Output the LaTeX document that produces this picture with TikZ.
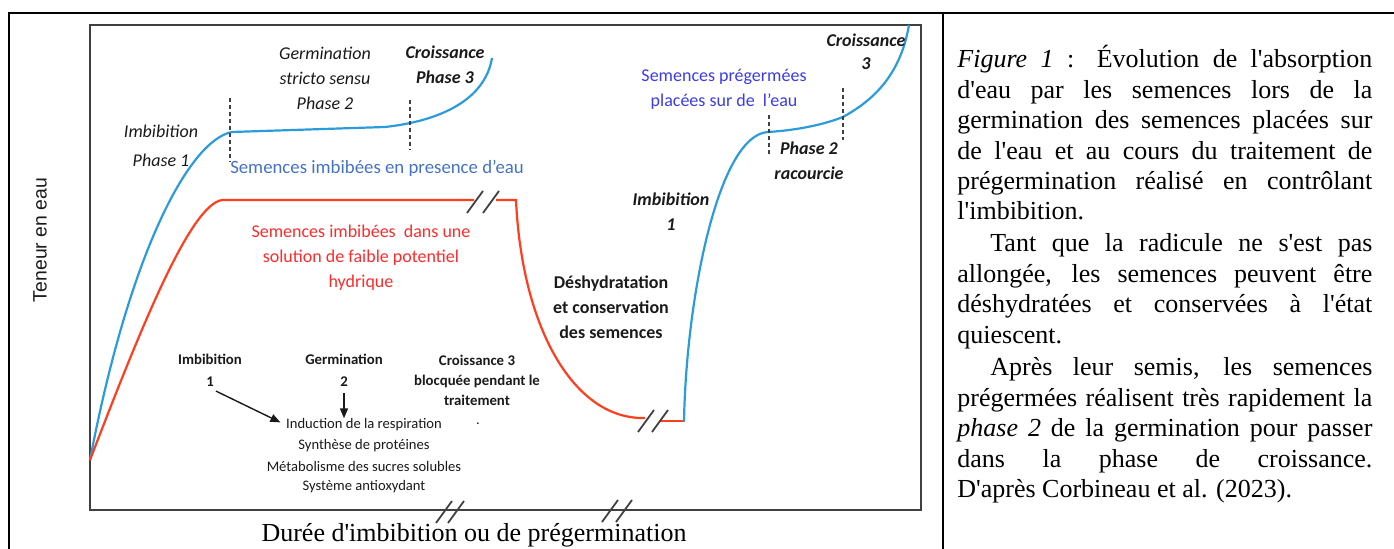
\documentclass[tikz,border=0pt]{standalone}
\usepackage{fontspec}
\usetikzlibrary{arrows.meta}
\newfontfamily\calibri{Carlito}
\newfontfamily\arialsans{Liberation Sans}
\font\timesup="Liberation Serif" at 13pt
\font\timesit="Liberation Serif/I" at 13pt
\definecolor{WaterBlue}{HTML}{2B9BD9}
\definecolor{SolRed}{HTML}{FF3D1F}
\definecolor{ImbText}{HTML}{4472C4}
\definecolor{PregText}{HTML}{3B3BEB}
\definecolor{RedText}{HTML}{FF2B2B}
\definecolor{FrameGray}{HTML}{404040}
\definecolor{LabelInk}{HTML}{1A1A1A}
\newcommand{\capline}[1]{\makebox[207.5pt][s]{#1}}
\tikzset{
  lab/.style={align=center, inner sep=0pt, text=LabelInk, font=\calibri\fontsize{9}{12.5}\selectfont},
  labit/.style={lab, font=\calibri\itshape\fontsize{9}{12.5}\selectfont},
  labbi/.style={lab, font=\calibri\bfseries\itshape\fontsize{9}{12.5}\selectfont},
  labbf/.style={lab, font=\calibri\bfseries\fontsize{9}{12.5}\selectfont},
  labsmall/.style={lab, font=\calibri\bfseries\fontsize{7.4}{11}\selectfont},
  actline/.style={lab, font=\calibri\fontsize{7.3}{10}\selectfont},
  curveblue/.style={WaterBlue, line width=1.1pt},
  curvered/.style={SolRed, line width=1.1pt},
  phasedash/.style={FrameGray, line width=0.6pt, dash pattern=on 2pt off 1.5pt},
  brk/.style={FrameGray, line width=0.9pt},
  arr/.style={-{Triangle[length=5pt,width=4pt]}, line width=0.7pt, LabelInk},
  capnode/.style={anchor=base west, inner sep=0pt, font=\timesup},
}
\begin{document}
\begin{tikzpicture}[x=0.5pt, y=-0.5pt]
  \useasboundingbox (0,0) rectangle (1394,549);
  % table lines
  \draw[line width=1.2pt] (9,549) -- (9,13) -- (1394,13);
  \draw[line width=1.2pt] (943,13) -- (943,549);
  % graph frame
  \draw[FrameGray, line width=1pt] (90,25) rectangle (921,510);

  % curves
  \draw[curveblue] (90,460) .. controls (130,250) and (190,140) .. (232,132)
    -- (385,127) .. controls (440,121) and (485,100) .. (492,58);
  \draw[curvered] (90,460) .. controls (140,330) and (190,205) .. (222,200) -- (474,200);
  \draw[curvered] (496,200) -- (516,200) .. controls (522,330) and (575,420) .. (645,418);
  \draw[curvered] (660,421) -- (684,421);
  \draw[curveblue] (684,422) .. controls (686,300) and (718,135) .. (768,132)
    .. controls (800,130) and (825,124) .. (843,117)
    .. controls (870,102) and (900,78) .. (909,25);

  \draw[phasedash] (230,98) -- (230,162);
  \draw[phasedash] (410,100) -- (410,150);
  \draw[phasedash] (769,115) -- (769,155);
  \draw[phasedash] (843,88) -- (843,140);

  % break marks
  \foreach \bx/\by/\bs in {483/202/8, 653/421/7, 450/512/6, 617/511/7} {
    \draw[brk] (\bx-\bs-8,\by+11) -- (\bx-\bs+8,\by-11);
    \draw[brk] (\bx+\bs-8,\by+11) -- (\bx+\bs+8,\by-11);
  }

  % labels
  \node[labit] (imbA) at (161,146) {Imbibition\\[2pt]Phase 1};
  \node[labit] (germA) at (325,78) {Germination\\stricto sensu\\Phase 2};
  \node[labbi] (croisA) at (445,65) {Croissance\\Phase 3};
  \node[lab, text=ImbText, font=\calibri\fontsize{9.4}{12.5}\selectfont] (imbLbl) at (377,168) {Semences imbibées en presence d’eau};
  \node[lab, text=RedText] (solLbl) at (361,257.5) {Semences imbibées\ \ dans une\\solution de faible potentiel\\hydrique};
  \node[labbi] (croisB) at (866,51.5) {Croissance\\[-1pt]3};
  \node[lab, text=PregText] (pregLbl) at (724,89.5) {Semences prégermées\\placées sur de\ \ l’eau};
  \node[labbi] (phaseB) at (809,161) {Phase 2\\racourcie};
  \node[labbi] (imbC) at (671,211.5) {Imbibition\\1};
  \node[labbf] (deshyd) at (611,307) {Déshydratation\\et conservation\\des semences};

  \node[labsmall] (imbB) at (210,370.5) {Imbibition\\1};
  \node[labsmall] (germB) at (344,370.5) {Germination\\2};
  \node[labsmall, font=\calibri\bfseries\fontsize{7.4}{10}\selectfont] (croisC) at (477,380) {Croissance 3\\blocquée pendant le\\traitement};
  \node[actline] (dot) at (478,424) {.};
  \foreach \txt [count=\i] in {Induction de la respiration, Synthèse de protéines,
      Métabolisme des sucres solubles, Système antioxydant}
    \node[actline] (act\i) at (364,425+20.5*\i-20.5) {\txt};

  \draw[arr, shorten >=3pt] ([xshift=3pt,yshift=-2pt]imbB.south) -- (act1.west);
  \draw[arr] ([yshift=-3pt]germB.south) -- (germB.south |- act1.north);

  % axis titles
  \node[inner sep=0pt, rotate=90, text=LabelInk, font=\arialsans\fontsize{9.7}{11}\selectfont] (yTitle) at (40,240) {Teneur en eau};
  \node[anchor=base, inner sep=0pt, font=\timesup] (xTitle) at (474,542) {Durée d'imbibition ou de prégermination};

  % caption
  \foreach \yb/\txt [count=\i] in {
      68/{\capline{{\timesit Figure 1} : Évolution de l'absorption}},
      98.5/{\capline{d'eau par les semences lors de la}},
      129/{\capline{germination des semences placées sur}},
      159.5/{\capline{de l'eau et au cours du traitement de}},
      190/{\capline{prégermination réalisé en contrôlant}},
      220/{l'imbibition.},
      252/{\capline{\hspace*{16.5pt}Tant que la radicule ne s'est pas}},
      282.5/{\capline{allongée, les semences peuvent être}},
      313/{\capline{déshydratées et conservées à l'état}},
      344/{quiescent.},
      376/{\capline{\hspace*{16.5pt}Après leur semis, les semences}},
      406.5/{\capline{prégermées réalisent très rapidement la}},
      437/{\capline{{\timesit phase 2} de la germination pour passer}},
      467.5/{\capline{dans la phase de croissance.}},
      498/{D'après Corbineau et al. (2023).}}
    \node[capnode] (cap\i) at (957,\yb) {\txt};
\end{tikzpicture}
\end{document}
